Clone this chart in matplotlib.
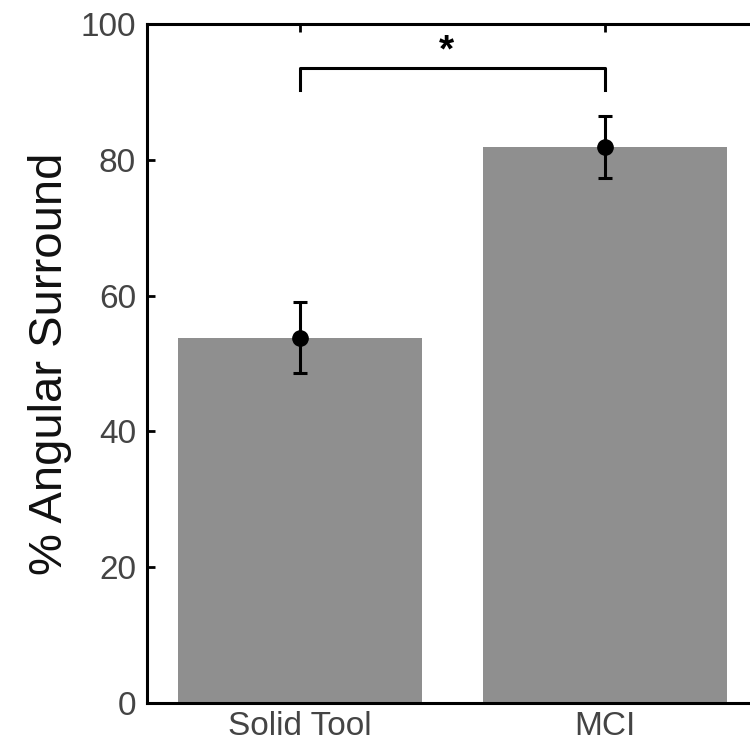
import numpy as np
import matplotlib
matplotlib.use("Agg")
import matplotlib.pyplot as plt

plt.rcParams['font.family'] = ['Liberation Sans', 'DejaVu Sans']

# data
groups = ["Solid Tool", "MCI"]
means = [53.8, 81.9]
errs = [5.2, 4.6]
yticks = [0, 20, 40, 60, 80, 100]
bracket_y = 93.5
bracket_drop = 3.2
star = "*"

fig = plt.figure(figsize=(7.5, 7.54), dpi=100)
ax = fig.add_axes([147 / 750, 51 / 754, 611 / 750, 679 / 754])
ax.set_axisbelow(True)

x = np.arange(1, len(groups) + 1)
ax.bar(x, means, width=0.8, color="#8f8f8f", edgecolor="none", zorder=1)
ax.errorbar(x, means, yerr=errs, fmt="o", color="black", markersize=11,
            elinewidth=2.2, capsize=5, capthick=2.2, zorder=3)

# significance bracket
ax.plot([x[0], x[0], x[1], x[1]],
        [bracket_y - bracket_drop, bracket_y, bracket_y, bracket_y - bracket_drop],
        color="black", lw=2.2, clip_on=False)
ax.text((x[0] + x[1]) / 2 - 0.02, bracket_y - 0.2, star, ha="center", va="bottom",
        fontsize=28, fontweight="bold")

ax.set_xlim(0.5, 2.5)
ax.set_ylim(0, 100)
ax.set_yticks(yticks)
ax.set_xticks(x)
ax.set_xticklabels(groups)
ax.tick_params(axis="both", direction="in", length=6, width=2, top=True,
               labelsize=24, labelcolor="#444444")
ax.tick_params(axis="y", pad=8)
ax.tick_params(axis="x", pad=6)
for s in ax.spines.values():
    s.set_linewidth(2.2)
    s.set_zorder(4)

ax.set_ylabel("% Angular Surround", fontsize=34, color="#111111", labelpad=6)

fig.savefig("out.png", dpi=100)
